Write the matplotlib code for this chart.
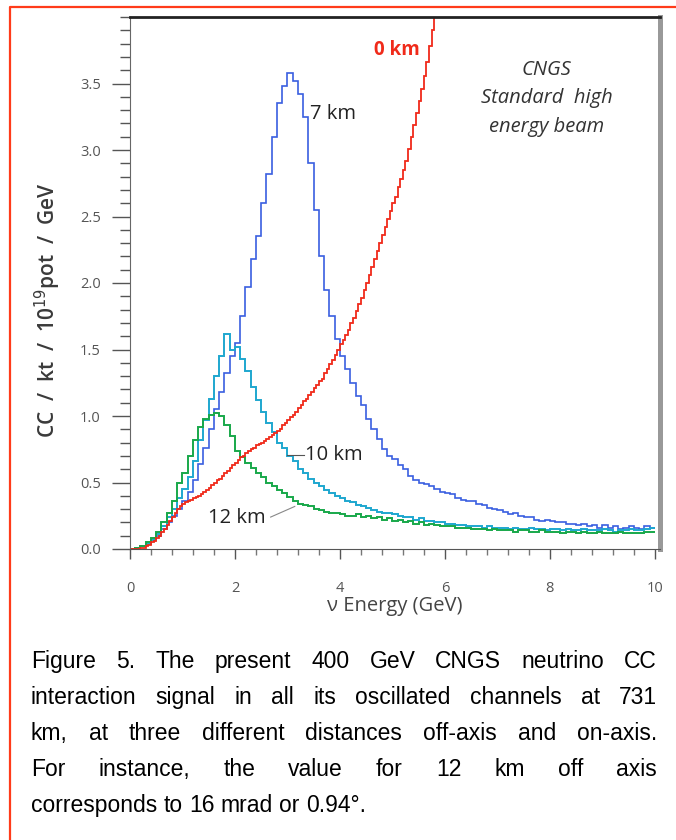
import matplotlib
matplotlib.use('Agg')
import matplotlib.pyplot as plt
import numpy as np
from matplotlib.lines import Line2D
from matplotlib.ticker import MultipleLocator, FormatStrFormatter
from matplotlib.transforms import Bbox

# histogram bin widths (GeV)
bin_width = 0.1
bin_width_0km = 0.05

# CC rate per bin
cc_7km = [0.00, 0.01, 0.02, 0.04, 0.07, 0.10, 0.15, 0.20, 0.25, 0.30,
          0.36, 0.43, 0.52, 0.64, 0.76, 0.90, 1.05, 1.18, 1.32, 1.45,
          1.55, 1.75, 1.97, 2.18, 2.35, 2.60, 2.82, 3.10, 3.35, 3.48,
          3.58, 3.52, 3.42, 3.25, 2.90, 2.55, 2.20, 1.95, 1.75, 1.58,
          1.45, 1.35, 1.25, 1.15, 1.08, 0.98, 0.90, 0.83, 0.75, 0.70,
          0.68, 0.63, 0.60, 0.55, 0.52, 0.50, 0.49, 0.47, 0.45, 0.43,
          0.42, 0.41, 0.38, 0.37, 0.36, 0.36, 0.34, 0.33, 0.31, 0.30,
          0.29, 0.28, 0.26, 0.27, 0.25, 0.24, 0.24, 0.22, 0.21, 0.22,
          0.21, 0.20, 0.20, 0.19, 0.19, 0.18, 0.19, 0.17, 0.18, 0.16,
          0.18, 0.16, 0.17, 0.15, 0.16, 0.17, 0.16, 0.15, 0.17, 0.16]

cc_10km = [0.00, 0.01, 0.02, 0.04, 0.07, 0.11, 0.17, 0.24, 0.30, 0.38,
           0.45, 0.54, 0.66, 0.82, 0.97, 1.13, 1.30, 1.45, 1.62, 1.50,
           1.52, 1.43, 1.34, 1.22, 1.12, 1.03, 0.95, 0.88, 0.80, 0.76,
           0.70, 0.66, 0.60, 0.57, 0.53, 0.50, 0.47, 0.44, 0.42, 0.40,
           0.38, 0.36, 0.35, 0.33, 0.32, 0.31, 0.29, 0.28, 0.27, 0.27,
           0.26, 0.25, 0.24, 0.24, 0.22, 0.23, 0.21, 0.21, 0.20, 0.20,
           0.19, 0.19, 0.18, 0.18, 0.17, 0.17, 0.17, 0.16, 0.17, 0.16,
           0.16, 0.16, 0.15, 0.16, 0.15, 0.15, 0.16, 0.15, 0.15, 0.14,
           0.15, 0.15, 0.14, 0.15, 0.14, 0.14, 0.15, 0.14, 0.14, 0.14,
           0.15, 0.14, 0.13, 0.14, 0.14, 0.15, 0.14, 0.14, 0.15, 0.16]

cc_12km = [0.00, 0.01, 0.02, 0.05, 0.08, 0.13, 0.20, 0.27, 0.36, 0.50,
           0.57, 0.70, 0.82, 0.92, 0.98, 1.01, 1.02, 1.00, 0.93, 0.85,
           0.74, 0.69, 0.65, 0.61, 0.57, 0.54, 0.50, 0.47, 0.44, 0.42,
           0.39, 0.36, 0.34, 0.33, 0.32, 0.30, 0.29, 0.28, 0.27, 0.27,
           0.26, 0.25, 0.25, 0.26, 0.24, 0.25, 0.23, 0.24, 0.22, 0.23,
           0.21, 0.22, 0.20, 0.21, 0.19, 0.20, 0.18, 0.19, 0.18, 0.17,
           0.17, 0.17, 0.16, 0.16, 0.16, 0.15, 0.15, 0.15, 0.14, 0.15,
           0.14, 0.14, 0.14, 0.13, 0.14, 0.14, 0.13, 0.13, 0.14, 0.13,
           0.13, 0.13, 0.12, 0.13, 0.13, 0.12, 0.13, 0.12, 0.12, 0.13,
           0.12, 0.12, 0.12, 0.13, 0.12, 0.12, 0.12, 0.12, 0.13, 0.13]

# on-axis spectrum, finer bins (0.05 GeV)
cc_0km = [0.00, 0.00, 0.00, 0.00, 0.01, 0.01, 0.02, 0.03, 0.05, 0.06,
          0.08, 0.10, 0.13, 0.15, 0.18, 0.21, 0.24, 0.27, 0.30, 0.32,
          0.34, 0.35, 0.36, 0.37, 0.38, 0.39, 0.40, 0.41, 0.43, 0.44,
          0.46, 0.48, 0.50, 0.52, 0.53, 0.55, 0.57, 0.59, 0.61, 0.63,
          0.65, 0.67, 0.69, 0.70, 0.72, 0.74, 0.75, 0.76, 0.78, 0.79,
          0.80, 0.81, 0.83, 0.84, 0.86, 0.87, 0.89, 0.90, 0.93, 0.95,
          0.97, 0.99, 1.01, 1.03, 1.06, 1.08, 1.11, 1.13, 1.16, 1.18,
          1.21, 1.23, 1.26, 1.28, 1.32, 1.35, 1.39, 1.42, 1.46, 1.50,
          1.54, 1.57, 1.61, 1.65, 1.70, 1.74, 1.79, 1.84, 1.89, 1.95,
          2.00, 2.06, 2.12, 2.18, 2.24, 2.30, 2.36, 2.42, 2.48, 2.54,
          2.60, 2.65, 2.72, 2.78, 2.85, 2.92, 3.01, 3.10, 3.19, 3.28,
          3.37, 3.46, 3.56, 3.66, 3.78, 3.90, 4.05]

caption_lines = [
    "Figure 5. The present 400 GeV CNGS neutrino CC",
    "interaction signal in all its oscillated channels at 731",
    "km, at three different distances off-axis and on-axis.",
    "For instance, the value for 12 km off axis",
    "corresponds to 16 mrad or 0.94°.",
]

W, H = 676, 840
fig = plt.figure(figsize=(W / 100, H / 100), dpi=100)
ax = fig.add_axes([130 / W, 1 - 549 / H, 530 / W, 532 / H])

tick_font = 'Open Sans'
grey = '#555555'

def edges(vals, width):
    return np.arange(len(vals) + 1) * width

ax.stairs(cc_7km, edges(cc_7km, bin_width), baseline=None,
          color='#3a5fe0', lw=1.2)
ax.stairs(cc_10km, edges(cc_10km, bin_width), baseline=None,
          color='#1ea7cf', lw=1.4)
ax.stairs(cc_12km, edges(cc_12km, bin_width), baseline=None,
          color='#18a84a', lw=1.4)
ax.stairs(cc_0km, edges(cc_0km, bin_width_0km), baseline=None,
          color='#f02a1a', lw=1.3)

ax.set_xlim(0, 10.1)
ax.set_ylim(0, 4.0)

ax.xaxis.set_major_locator(MultipleLocator(2))
ax.xaxis.set_minor_locator(MultipleLocator(0.4))
ax.yaxis.set_minor_locator(MultipleLocator(0.1))
ax.set_yticks(np.arange(0, 3.6, 0.5))
ax.yaxis.set_major_formatter(FormatStrFormatter('%.1f'))

ax.tick_params(axis='y', which='major', direction='out', length=13, width=1,
               color='#555555', pad=8, labelsize=10.5, labelcolor=grey)
ax.tick_params(axis='y', which='minor', direction='out', length=7, width=1,
               color='#555555')
ax.tick_params(axis='x', which='major', direction='out', length=7, width=1,
               color='#555555', pad=16, labelsize=10.5, labelcolor=grey)
ax.tick_params(axis='x', which='minor', direction='out', length=4, width=1,
               color='#777777')
for lab in ax.get_xticklabels() + ax.get_yticklabels():
    lab.set_fontfamily(tick_font)

ax.spines['left'].set_color('#666666')
ax.spines['bottom'].set_color('#555555')
ax.spines['top'].set_color('#222222')
ax.spines['top'].set_linewidth(2)
ax.spines['right'].set_color('#999999')
ax.spines['right'].set_linewidth(3.6)

ax.set_xlabel('ν Energy (GeV)', fontsize=14.5, color='#444444',
              family=tick_font, labelpad=0)
fig.text(48 / W, 1 - 310 / H, 'CC  /  kt  /  10$^{19}$pot  /  GeV',
         rotation=90, ha='center', va='center', fontsize=15,
         color='#3a3a3a', family=tick_font, fontweight='semibold')

# curve labels
lab_kw = dict(fontsize=14.5, color='#222222', family=tick_font, va='center')
ax.text(3.43, 3.27, '7 km', ha='left', **lab_kw)
ax.text(3.33, 0.71, '10 km', ha='left', **lab_kw)
ax.text(1.49, 0.23, '12 km', ha='left', **lab_kw)
ax.plot([2.99, 3.31], [0.71, 0.71], color='#555555', lw=0.8)
ax.plot([2.68, 3.14], [0.24, 0.32], color='#888888', lw=0.8)
ax.text(5.52, 3.75, '0 km', ha='right', va='center', fontsize=13.5,
        fontweight='bold', color='#f02a1a', family=tick_font)
beam_kw = dict(ha='center', va='center', fontsize=14.5, style='italic',
               color='#333333', family=tick_font)
ax.text(7.94, 3.60, 'CNGS', **beam_kw)
ax.text(7.94, 3.39, 'Standard  high', **beam_kw)
ax.text(7.94, 3.17, 'energy beam', **beam_kw)

# the "10" label is cut by the picture edge in the original
xt = ax.get_xticklabels()
xt[-1].set_clip_on(True)
xt[-1].set_clip_box(Bbox([[0, 0], [661, H]]))

# red frame around the figure
fig.add_artist(Line2D([10 / W, 10 / W, 1.0], [0.0, 1 - 7 / H, 1 - 7 / H],
                      transform=fig.transFigure, color='#ff3b1a', lw=1.6))

# justified caption
cap_kw = dict(fontsize=16.5, family='Liberation Sans', color='black',
              va='baseline', ha='left')
renderer = fig.canvas.get_renderer()
x0, x1 = 31, 657
for i, line in enumerate(caption_lines):
    y = 668 + 36 * i
    words = line.split(' ')
    texts = [fig.text(0, 0, w, **cap_kw) for w in words]
    widths = [t.get_window_extent(renderer).width for t in texts]
    if i < len(caption_lines) - 1:
        gap = (x1 - x0 - sum(widths)) / (len(words) - 1)
    else:
        gap = 6.3
    x = x0
    for t, w in zip(texts, widths):
        t.set_position((x / W, 1 - y / H))
        x += w + gap

fig.savefig('out.png', dpi=100)
